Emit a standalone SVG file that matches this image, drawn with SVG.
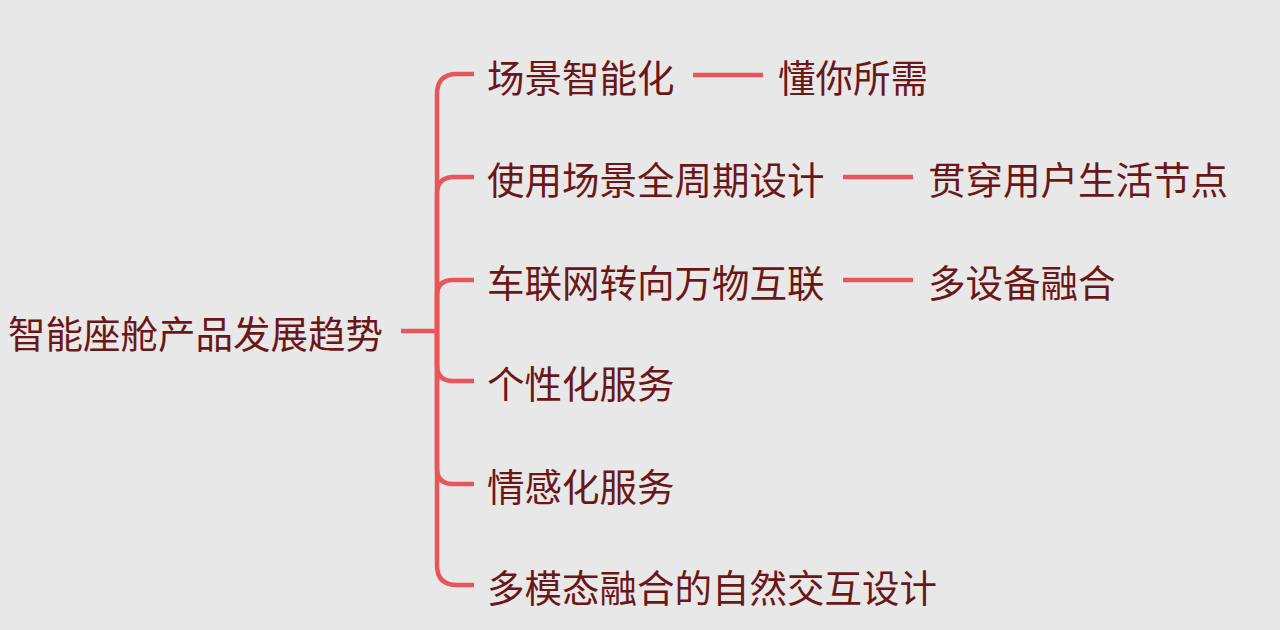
<svg xmlns="http://www.w3.org/2000/svg" width="1280" height="630" viewBox="0 0 1280 630">
<style>
.t{font-family:"Noto Sans CJK SC","Noto Sans",sans-serif;font-size:37.5px;fill:#6b1717;dominant-baseline:central}
.c{fill:none;stroke:#e8565b;stroke-width:4.5;stroke-linecap:butt}
</style>
<rect width="1280" height="630" fill="#e8e8e8"/>
<g id="connectors">
<path class="c" d="M401,331 H437"/>
<path class="c" d="M437,331 V94 Q437,74 457,74 H474"/>
<path class="c" d="M437,331 V194 Q437,177 454,177 H474"/>
<path class="c" d="M437,331 V296 Q437,280 453,280 H474"/>
<path class="c" d="M437,331 V365 Q437,381 453,381 H474"/>
<path class="c" d="M437,331 V468 Q437,484 453,484 H474"/>
<path class="c" d="M437,331 V565 Q437,585 457,585 H474"/>
<path class="c" d="M693,75 H763"/>
<path class="c" d="M843,177 H913"/>
<path class="c" d="M843,280 H913"/>
</g>
<g id="root"><text class="t" x="8" y="331">智能座舱产品发展趋势</text></g>
<g id="n1"><text class="t" x="487" y="75">场景智能化</text></g>
<g id="n1a"><text class="t" x="778" y="75">懂你所需</text></g>
<g id="n2"><text class="t" x="487" y="177">使用场景全周期设计</text></g>
<g id="n2a"><text class="t" x="928" y="177">贯穿用户生活节点</text></g>
<g id="n3"><text class="t" x="487" y="280">车联网转向万物互联</text></g>
<g id="n3a"><text class="t" x="928" y="280">多设备融合</text></g>
<g id="n4"><text class="t" x="487" y="381">个性化服务</text></g>
<g id="n5"><text class="t" x="487" y="484">情感化服务</text></g>
<g id="n6"><text class="t" x="487" y="585">多模态融合的自然交互设计</text></g>
</svg>
